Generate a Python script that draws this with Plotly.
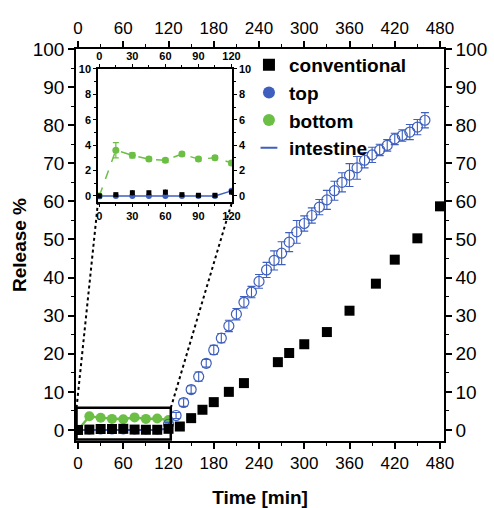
import plotly.graph_objects as go

# ---------------- data ----------------
t_early = [0, 15, 30, 45, 60, 75, 90, 105, 120]
conv_early = [0.0, 0.1, 0.25, 0.25, 0.3, 0.1, 0.05, 0.05, 0.3]
conv_early_err = [0, 0.1, 0.2, 0.15, 0.2, 0.05, 0.05, 0.05, 0.2]
t_late = [135, 150, 165, 180, 200, 220, 265, 280, 300, 330, 360, 395, 420, 450, 480]
conv_late = [0.9, 3.1, 5.3, 7.3, 10.0, 12.3, 17.8, 20.2, 22.5, 25.7, 31.3, 38.4, 44.7, 50.3, 58.7]

top = [0, 0, 0, 0, 0, 0, 0, 0, 0.4]
bottom = [0, 3.6, 3.2, 2.9, 2.8, 3.3, 2.9, 3.0, 2.6]
bottom_err = [0, 0.6, 0.2, 0.15, 0.15, 0.15, 0.15, 0.15, 0.15]

t_int = [120, 130, 140, 150, 160, 170, 180, 190, 200, 210, 220, 230, 240, 250, 260,
         270, 280, 290, 300, 310, 320, 330, 340, 350, 360, 370, 380, 390, 400, 410,
         420, 430, 440, 450, 460]
intestine = [1.5, 3.8, 7.2, 10.6, 14.0, 17.5, 21.0, 24.1, 27.3, 30.4, 33.5, 36.2, 39.0,
             42.0, 44.5, 46.4, 49.3, 52.0, 54.2, 56.3, 58.5, 60.4, 62.8, 65.0, 66.9,
             68.8, 70.8, 72.2, 73.5, 74.7, 76.4, 77.3, 78.2, 79.5, 81.3]
intestine_err = [0.5, 0.8, 1.0, 1.0, 1.2, 1.0, 1.2, 1.2, 1.5, 1.5, 1.5, 1.5, 1.8, 2.0, 2.5,
                 3.0, 2.5, 3.0, 2.0, 2.0, 2.0, 2.5, 2.5, 2.5, 3.0, 3.0, 2.0, 2.0, 1.5, 1.5,
                 1.5, 1.5, 2.0, 2.0, 2.0]

x_ticks = [0, 60, 120, 180, 240, 300, 360, 420, 480]
y_ticks = [0, 10, 20, 30, 40, 50, 60, 70, 80, 90, 100]
inset_x_ticks = [0, 30, 60, 90, 120]
inset_y_ticks = [0, 2, 4, 6, 8, 10]

# ---------------- style ----------------
BLACK = "#000000"
BLUE = "#3e5fbd"
GREEN = "#6cbf45"
FONT = "Arial, Liberation Sans, sans-serif"

XR = [-2.7, 485.3]
YR = [-2.9, 100]
IXR = [-1.2, 120.5]
IYR = [-0.47, 10]
INSET_X = [0.0598, 0.424]
INSET_Y = [0.61, 0.949]

fig = go.Figure()

t_conv = t_early + t_late
conv = conv_early + conv_late

# main plot traces
fig.add_trace(go.Scatter(x=t_early, y=bottom, mode="lines+markers", name="bottom",
                         line=dict(color=GREEN, width=2.5),
                         marker=dict(color=GREEN, size=10, symbol="circle"),
                         showlegend=False, xaxis="x", yaxis="y"))
fig.add_trace(go.Scatter(x=t_early, y=top, mode="lines+markers", name="top",
                         line=dict(color=BLUE, width=2),
                         marker=dict(color=BLUE, size=9, symbol="circle"),
                         showlegend=False, xaxis="x", yaxis="y"))
fig.add_trace(go.Scatter(x=t_int, y=intestine, mode="markers", name="intestine",
                         error_y=dict(type="data", array=intestine_err, color=BLUE,
                                      thickness=1.1, width=4),
                         marker=dict(color=BLUE, size=10, symbol="circle-open",
                                     line=dict(color=BLUE, width=1.2)),
                         showlegend=False, xaxis="x", yaxis="y"))
fig.add_trace(go.Scatter(x=t_conv, y=conv, mode="markers", name="conventional",
                         marker=dict(color=BLACK, size=10, symbol="square"),
                         showlegend=False, xaxis="x", yaxis="y"))

# legend entries
fig.add_trace(go.Scatter(x=[None], y=[None], mode="markers", name="conventional",
                         marker=dict(color=BLACK, size=9, symbol="square"), xaxis="x", yaxis="y"))
fig.add_trace(go.Scatter(x=[None], y=[None], mode="markers", name="top",
                         marker=dict(color=BLUE, size=9, symbol="circle"), xaxis="x", yaxis="y"))
fig.add_trace(go.Scatter(x=[None], y=[None], mode="markers", name="bottom",
                         marker=dict(color=GREEN, size=9, symbol="circle"), xaxis="x", yaxis="y"))
fig.add_trace(go.Scatter(x=[None], y=[None], mode="markers", name="intestine",
                         marker=dict(color=BLUE, size=5, symbol="line-ew-open",
                                     line=dict(color=BLUE, width=1)), xaxis="x", yaxis="y"))

# dummy traces for mirrored axes
fig.add_trace(go.Scatter(x=[0], y=[0], mode="markers", opacity=0, showlegend=False,
                         hoverinfo="skip", xaxis="x2", yaxis="y2"))
fig.add_trace(go.Scatter(x=[0], y=[0], mode="markers", opacity=0, showlegend=False,
                         hoverinfo="skip", xaxis="x4", yaxis="y4"))

# inset traces
fig.add_trace(go.Scatter(x=t_early, y=bottom, mode="lines+markers", showlegend=False,
                         line=dict(color=GREEN, width=1.5, dash="dash"),
                         error_y=dict(type="data", array=bottom_err, color=GREEN,
                                      thickness=1.2, width=3),
                         marker=dict(color=GREEN, size=7), xaxis="x3", yaxis="y3"))
fig.add_trace(go.Scatter(x=t_early, y=top, mode="lines+markers", showlegend=False,
                         line=dict(color=BLUE, width=1.5),
                         marker=dict(color=BLUE, size=6), xaxis="x3", yaxis="y3"))
fig.add_trace(go.Scatter(x=t_early, y=conv_early, mode="markers", showlegend=False,
                         error_y=dict(type="data", array=conv_early_err, color=BLACK,
                                      thickness=1.5, width=0),
                         marker=dict(color=BLACK, size=5, symbol="square"),
                         xaxis="x3", yaxis="y3"))

main_tick = dict(ticks="outside", ticklen=6, tickwidth=1.5, tickcolor=BLACK,
                 showline=True, linecolor=BLACK, linewidth=1.5, showgrid=False,
                 zeroline=False, automargin=False,
                 tickfont=dict(family=FONT, size=17, color=BLACK))
inset_tick = dict(ticks="outside", ticklen=3, tickwidth=1.2, tickcolor=BLACK,
                  showline=True, linecolor=BLACK, linewidth=1.5, showgrid=False,
                  zeroline=False, automargin=False,
                  tickfont=dict(family=FONT, size=11, color=BLACK, weight="bold"))

fig.update_layout(
    width=494, height=508,
    margin=dict(l=76, r=50, t=49, b=67),
    paper_bgcolor="white", plot_bgcolor="white",
    font=dict(family=FONT, color=BLACK),
    xaxis=dict(range=XR, tickvals=x_ticks, domain=[0, 1], anchor="y",
               minor=dict(dtick=30, tick0=0, ticklen=3, tickwidth=1.2, ticks="outside"),
               title=dict(text="<b>Time [min]</b>", font=dict(size=19, family=FONT),
                          standoff=23),
               **main_tick),
    xaxis2=dict(range=XR, tickvals=x_ticks, overlaying="x", side="top", anchor="y",
                minor=dict(dtick=30, tick0=0, ticklen=3, tickwidth=1.2, ticks="outside"),
                **main_tick),
    yaxis=dict(range=YR, tickvals=y_ticks, domain=[0, 1], anchor="x",
               minor=dict(dtick=5, tick0=0, ticklen=3, tickwidth=1.2, ticks="outside"),
               title=dict(text="<b>Release %</b>", font=dict(size=19, family=FONT),
                          standoff=1),
               **{**main_tick, "tickfont": dict(family=FONT, size=19, color=BLACK)}),
    yaxis2=dict(range=YR, tickvals=y_ticks, overlaying="y", side="right", anchor="x",
                minor=dict(dtick=5, tick0=0, ticklen=3, tickwidth=1.2, ticks="outside"),
                **{**main_tick, "tickfont": dict(family=FONT, size=19, color=BLACK)}),
    xaxis3=dict(range=IXR, tickvals=inset_x_ticks, domain=INSET_X, anchor="y3",
                minor=dict(dtick=15, tick0=0, ticklen=2, ticks="outside"), **inset_tick),
    yaxis3=dict(range=IYR, tickvals=inset_y_ticks, domain=INSET_Y, anchor="x3",
                minor=dict(dtick=1, tick0=0, ticklen=2, ticks="outside"), **inset_tick),
    xaxis4=dict(range=IXR, tickvals=inset_x_ticks, overlaying="x3", side="top", anchor="y3",
                minor=dict(dtick=15, tick0=0, ticklen=2, ticks="outside"), **inset_tick),
    yaxis4=dict(range=IYR, tickvals=inset_y_ticks, overlaying="y3", side="right", anchor="x3",
                minor=dict(dtick=1, tick0=0, ticklen=2, ticks="outside"), **inset_tick),
    legend=dict(x=0.47, y=1.008, xanchor="left", yanchor="top",
                bgcolor="rgba(0,0,0,0)", borderwidth=0,
                font=dict(family=FONT, size=19, color=BLACK, weight="bold"),
                itemsizing="constant", tracegroupgap=0),
    showlegend=True,
)

# zoom rectangle and connecting dotted lines
rect_x = [-2, 123]
rect_y = [-2.5, 5.8]
fig.add_shape(type="rect", xref="x", yref="y", x0=rect_x[0], x1=rect_x[1],
              y0=rect_y[0], y1=rect_y[1], line=dict(color=BLACK, width=2.5),
              fillcolor="rgba(0,0,0,0)")


def to_paper_x(v):
    return (v - XR[0]) / (XR[1] - XR[0])


def to_paper_y(v):
    return (v - YR[0]) / (YR[1] - YR[0])


for rx, ix in [(rect_x[0], INSET_X[0]), (rect_x[1], INSET_X[1])]:
    fig.add_shape(type="line", xref="paper", yref="paper",
                  x0=to_paper_x(rx), y0=to_paper_y(rect_y[1]), x1=ix, y1=INSET_Y[0],
                  line=dict(color=BLACK, width=2, dash="dot"))

fig.write_html("out.html")
